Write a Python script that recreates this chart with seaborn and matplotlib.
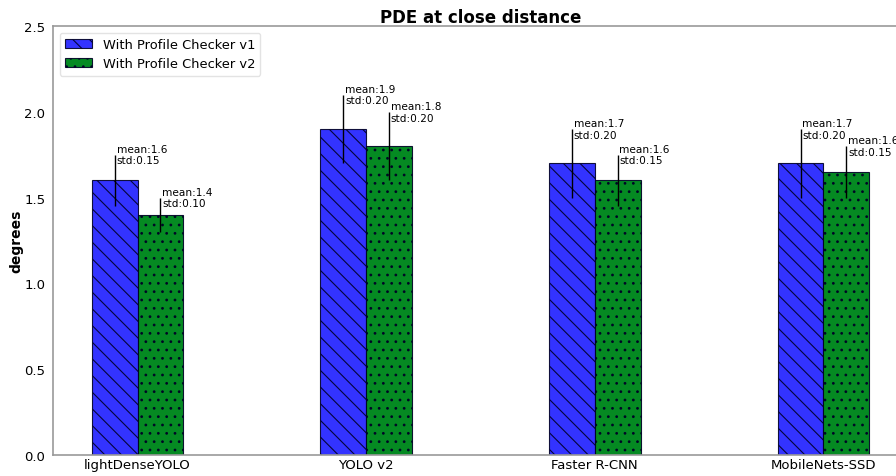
import matplotlib
matplotlib.use("Agg")
import matplotlib.pyplot as plt
import seaborn as sns
import pandas as pd
import numpy as np

models = ["lightDenseYOLO", "YOLO v2", "Faster R-CNN", "MobileNets-SSD"]
series = ["With Profile Checker v1", "With Profile Checker v2"]
mean_v1 = [1.6, 1.9, 1.7, 1.7]
std_v1 = [0.15, 0.20, 0.20, 0.20]
mean_v2 = [1.4, 1.8, 1.6, 1.65]
std_v2 = [0.10, 0.20, 0.15, 0.15]

df = pd.DataFrame({
    "model": models * 2,
    "series": [series[0]] * 4 + [series[1]] * 4,
    "mean": mean_v1 + mean_v2,
})

sns.set_style("white", rc={"text.color": "black", "axes.labelcolor": "black",
                           "xtick.color": "black", "ytick.color": "black"})
plt.rcParams["font.family"] = ["DejaVu Sans"]
plt.rcParams["hatch.linewidth"] = 0.8

fig = plt.figure(figsize=(8.96, 4.77), dpi=100)
ax = fig.add_axes([53/896, 1 - 456/477, (908 - 53)/896, (456 - 27)/477])

colors = ["#3333ff", "#058a22"]
sns.barplot(data=df, x="model", y="mean", hue="series", order=models,
            hue_order=series, palette=colors, width=0.4, saturation=1,
            errorbar=None, legend=False, ax=ax, edgecolor="black", linewidth=0.8)

hatches = ["\\\\", ".."]
for cont, h in zip(ax.containers, hatches):
    for p in cont.patches:
        p.set_hatch(h)
        p.set_edgecolor((0, 0, 0.15, 0.9))

x = np.arange(len(models))
for offs, means, stds in [(-0.1, mean_v1, std_v1), (0.1, mean_v2, std_v2)]:
    xs = x + offs
    ax.errorbar(xs, means, yerr=stds, fmt="none", ecolor="black", elinewidth=1, capsize=0)
    for xi, m, s in zip(xs, means, stds):
        ax.text(xi + 0.008, m + s, f"mean:{m:.1f}\nstd:{s:.2f}", ha="left", va="center",
                fontsize=7.6, linespacing=1.2)

ax.set_xlim(-0.37, 3.37)
ax.set_ylim(0, 2.5)
ax.set_yticks([0.0, 0.5, 1.0, 1.5, 2.0, 2.5])
ax.set_title("PDE at close distance", fontsize=12, fontweight="bold", pad=3)
ax.set_ylabel("degrees", fontsize=10, fontweight="bold", labelpad=0.5)
ax.set_xlabel("")
ax.tick_params(axis="y", labelsize=9.5, length=3.5, color="#aaaaaa", width=1, pad=2)
ax.tick_params(axis="x", labelsize=9.5, length=0, pad=2)
for s in ax.spines.values():
    s.set_color("#999999")
    s.set_linewidth(1.2)

ax.legend(handles=ax.containers[:2], labels=series, loc="upper left", fontsize=9.4,
          frameon=True, edgecolor="#dddddd", handlelength=2.1, borderaxespad=0.5)

fig.savefig("out.png", dpi=100)
